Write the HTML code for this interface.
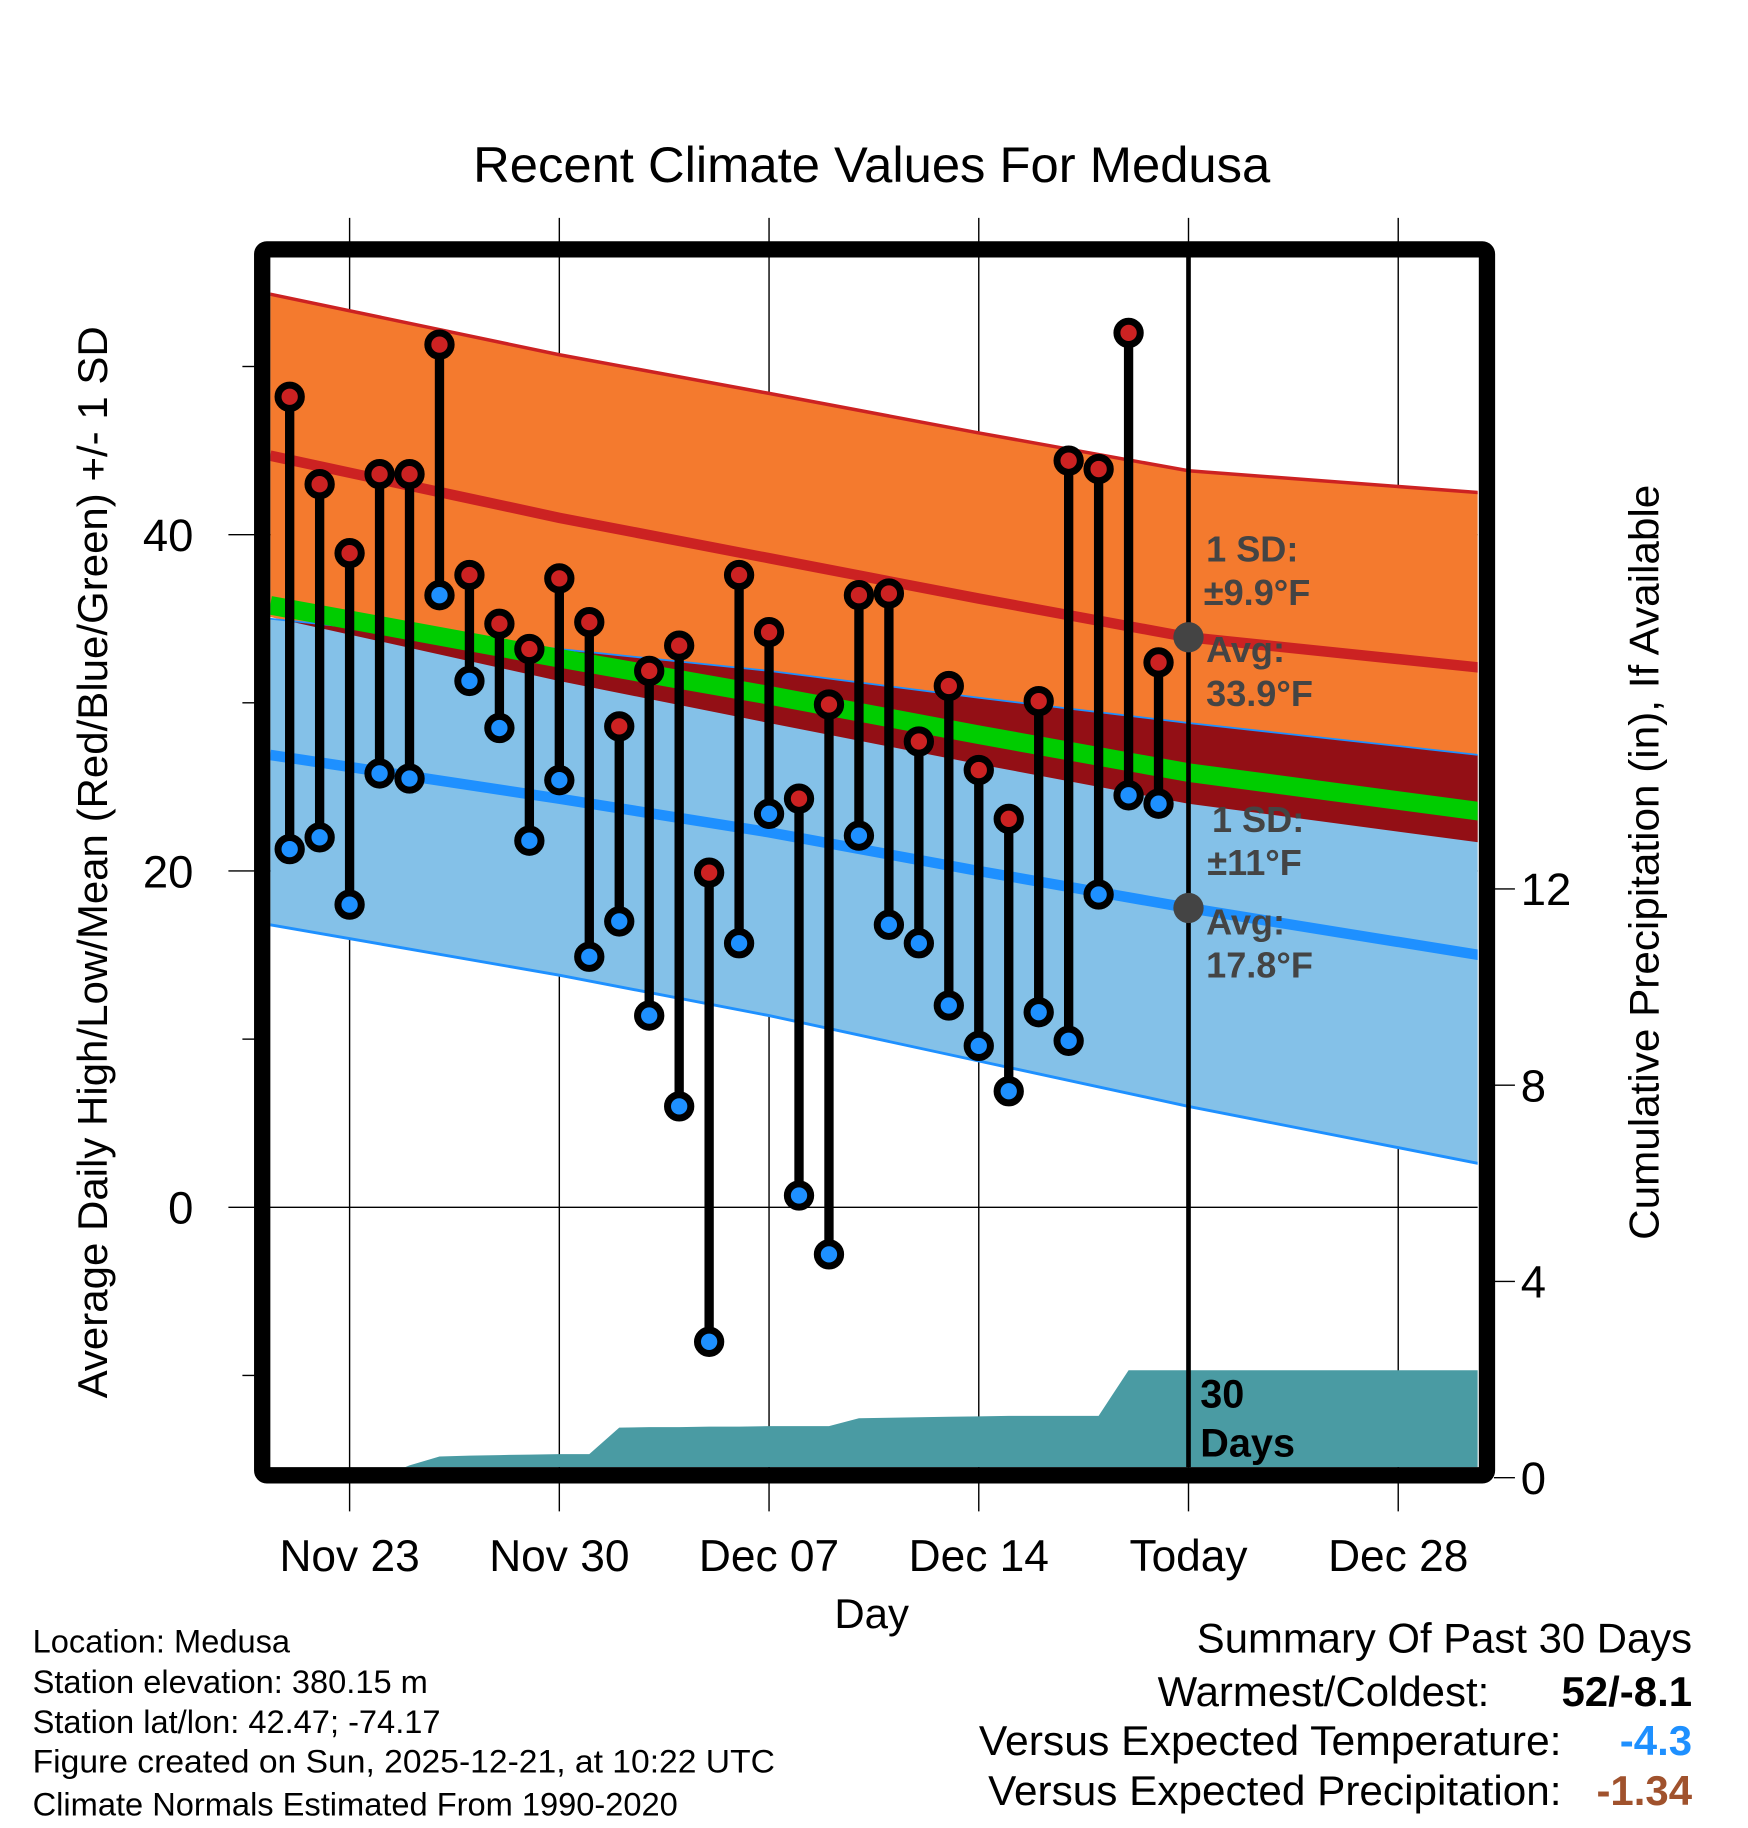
<!DOCTYPE html>
<html><head><meta charset="utf-8"><style>
html,body{margin:0;padding:0;background:#fff}
svg{display:block}
text{font-family:"Liberation Sans",Arial,sans-serif}
</style></head><body>
<svg id="chart" width="1748" height="1828" viewBox="0 0 1500 1568.65" xmlns="http://www.w3.org/2000/svg">
<defs><clipPath id="plotclip"><rect x="232" y="221" width="1036" height="1038"/></clipPath></defs>
<rect width="1500" height="1570" fill="#fff"/>
<text x="748" y="156" font-size="43" text-anchor="middle" textLength="684" lengthAdjust="spacingAndGlyphs">Recent Climate Values For Medusa</text>
<g id="grid"></g>
<g id="plot" clip-path="url(#plotclip)"></g>
<g id="marks"></g>
<rect x="225" y="214" width="1051" height="1052" fill="none" stroke="#000" stroke-width="14" rx="4"/>
<g id="axes"></g>
<text transform="translate(92,740) rotate(-90)" font-size="36" text-anchor="middle" textLength="920" lengthAdjust="spacingAndGlyphs">Average Daily High/Low/Mean (Red/Blue/Green) +/- 1 SD</text>
<text transform="translate(1423,740) rotate(-90)" font-size="36" text-anchor="middle" textLength="648" lengthAdjust="spacingAndGlyphs">Cumulative Precipitation (in), If Available</text>
<text x="748" y="1397" font-size="36" text-anchor="middle">Day</text>
<g font-size="28">
<text x="28" y="1418">Location: Medusa</text>
<text x="28" y="1453">Station elevation: 380.15 m</text>
<text x="28" y="1487">Station lat/lon: 42.47; -74.17</text>
<text x="28" y="1521" textLength="637" lengthAdjust="spacingAndGlyphs">Figure created on Sun, 2025-12-21, at 10:22 UTC</text>
<text x="28" y="1558">Climate Normals Estimated From 1990-2020</text>
</g>
<g font-size="36">
<text x="1452" y="1418" text-anchor="end" textLength="425" lengthAdjust="spacingAndGlyphs">Summary Of Past 30 Days</text>
<text x="1278" y="1464" text-anchor="end">Warmest/Coldest:</text>
<text x="1452" y="1464" text-anchor="end" font-weight="bold">52/-8.1</text>
<text x="1340" y="1506" text-anchor="end" textLength="500" lengthAdjust="spacingAndGlyphs">Versus Expected Temperature:</text>
<text x="1452" y="1506" text-anchor="end" font-weight="bold" fill="#1e90ff">-4.3</text>
<text x="1340" y="1549" text-anchor="end" textLength="492" lengthAdjust="spacingAndGlyphs">Versus Expected Precipitation:</text>
<text x="1452" y="1549" text-anchor="end" font-weight="bold" fill="#a0522d">-1.34</text>
</g>
</svg>
<script>
const days = [-2,-1,0,1,2,3,4,5,6,7,8,9,10,11,12,13,14,15,16,17,18,19,20,21,22,23,24,25,26,27];
const highs = [48.2,43.0,38.9,43.6,43.6,51.3,37.6,34.7,33.2,37.4,34.8,28.6,31.9,33.4,19.9,37.6,34.2,24.3,29.9,36.4,36.5,27.7,31.0,26.0,23.1,30.1,44.4,43.9,52.0,32.4];
const lows = [21.3,22.0,18.0,25.8,25.5,36.4,31.3,28.5,21.8,25.4,14.9,17.0,11.4,6.0,-8.0,15.7,23.4,0.7,-2.8,22.1,16.8,15.7,12.0,9.6,6.9,11.6,9.9,18.6,24.5,24.0];
const precip = [0,0,0,0,0.25,0.43,0.45,0.46,0.47,0.48,0.48,1.02,1.03,1.03,1.04,1.04,1.05,1.05,1.05,1.21,1.22,1.23,1.24,1.25,1.26,1.26,1.26,1.26,2.19,2.19];
const normDays = [-2.65,7,14,21,28,37.7];
const highMean = [44.7,41.0,38.6,36.2,33.9,32.1];
const highSD = [9.6,9.7,9.8,9.85,9.9,10.4];
const lowMean = [26.9,24.3,22.3,20.0,17.8,15.0];
const lowSDUp = [8.1,8.9,9.6,10.3,11.0,11.9];
const lowSDDown = [10.1,10.5,10.9,11.3,11.8,12.4];
const xTickDays = [0,7,14,21,28,35];
const xTickLabels = ["Nov 23","Nov 30","Dec 07","Dec 14","Today","Dec 28"];
const yTicks = [40,20,0];
const yMinor = [50,30,10,-10];
const y2Ticks = [0,4,8,12];
const todayDay = 28;
const todayHigh = 33.9, todayLow = 17.8;

const NS="http://www.w3.org/2000/svg";
const X = d => 300 + 25.71*d;
const Y = t => 1036 - 14.43*t;
const Y2 = p => 1268 - 42.1*p;
function mk(tag, attrs, parent){const e=document.createElementNS(NS,tag);for(const k in attrs)e.setAttribute(k,attrs[k]);parent.appendChild(e);return e;}
const grid=document.getElementById('grid'), plot=document.getElementById('plot'), marks=document.getElementById('marks'), axes=document.getElementById('axes');

xTickDays.forEach((d,i)=>{
  const l=mk('line',{x1:X(d),x2:X(d),y1:187,y2:1297,stroke:'#000','stroke-width':1.2},grid);
  
  
  const t=mk('text',{x:X(d),y:1348,'font-size':38,'text-anchor':'middle'},axes);
  t.textContent=xTickLabels[i];
  
  
});
yTicks.forEach(v=>{
  const l=mk('line',{x1:196,x2:1268,y1:Y(v),y2:Y(v),stroke:'#000','stroke-width':1.2},grid);
  
  
  const t=mk('text',{x:166,y:Y(v)+14,'font-size':39,'text-anchor':'end'},axes);
  t.textContent=v;
  
  
});
yMinor.forEach(v=>{
  const l=mk('line',{x1:208,x2:220,y1:Y(v),y2:Y(v),stroke:'#000','stroke-width':1.2},axes);
  
  
});
y2Ticks.forEach(v=>{
  const l=mk('line',{x1:1282,x2:1300,y1:Y2(v),y2:Y2(v),stroke:'#000','stroke-width':1.2},axes);
  
  
  const t=mk('text',{x:1305,y:Y2(v)+14,'font-size':39},axes);
  t.textContent=v;
  
  
});

function line(vals){return normDays.map((d,i)=>[X(d),Y(vals[i])]);}
const hUp=line(highMean.map((m,i)=>m+highSD[i])), hLo=line(highMean.map((m,i)=>m-highSD[i]));
const lUp=line(lowMean.map((m,i)=>m+lowSDUp[i])), lLo=line(lowMean.map((m,i)=>m-lowSDDown[i]));
const hM=line(highMean), lM=line(lowMean), gM=line(highMean.map((m,i)=>(m+lowMean[i])/2));
const pts=a=>a.map(p=>p.join(',')).join(' ');
const band=(a,b)=>pts(a.concat(b.slice().reverse()));

const defs=document.querySelector('defs');
const cp=mk('clipPath',{id:'lowband'},defs);
mk('polygon',{points:band(lUp,lLo)},cp);

let e;
e=mk('polygon',{points:band(hUp,hLo),fill:'#f47a2e'},plot);


e=mk('polygon',{points:band(lUp,lLo),fill:'#84c1e8'},plot);


e=mk('polygon',{points:band(hUp,hLo),fill:'#930f15','clip-path':'url(#lowband)'},plot);


e=mk('polyline',{points:pts(hUp),fill:'none',stroke:'#cc2222','stroke-width':3},plot);


e=mk('polyline',{points:pts(lUp),fill:'none',stroke:'#1e90ff','stroke-width':1.5},plot);


e=mk('polyline',{points:pts(lLo),fill:'none',stroke:'#1e90ff','stroke-width':2.5},plot);


e=mk('polyline',{points:pts(hM),fill:'none',stroke:'#cc2222','stroke-width':9},plot);


e=mk('polyline',{points:pts(lM),fill:'none',stroke:'#1e90ff','stroke-width':9},plot);


e=mk('polyline',{points:pts(gM),fill:'none',stroke:'#00cc00','stroke-width':16},plot);



const pp=[[X(days[0]),Y2(0)]].concat(days.map((d,i)=>[X(d),Y2(precip[i])]));
pp.unshift([X(-3),Y2(0)]);
pp.push([1270,Y2(precip[precip.length-1])],[1270,Y2(0)]);
e=mk('polygon',{points:pts(pp),fill:'#4a9ba3'},plot);



e=mk('line',{x1:X(todayDay),x2:X(todayDay),y1:221,y2:1262,stroke:'#000','stroke-width':4},plot);



days.forEach((d,i)=>{
  const s=mk('line',{x1:X(d),x2:X(d),y1:Y(highs[i]),y2:Y(lows[i]),stroke:'#000','stroke-width':8},marks);
  
  
});
days.forEach((d,i)=>{
  const h=mk('circle',{cx:X(d),cy:Y(highs[i]),r:10,fill:'#cc2222',stroke:'#000','stroke-width':6},marks);
  
  
  const l=mk('circle',{cx:X(d),cy:Y(lows[i]),r:10,fill:'#1e90ff',stroke:'#000','stroke-width':6},marks);
  
  
});
e=mk('circle',{cx:X(todayDay),cy:Y(todayHigh),r:13,fill:'#444'},marks);


e=mk('circle',{cx:X(todayDay),cy:Y(todayLow),r:13,fill:'#444'},marks);



const ann=[["1 SD:",1035,482],["±9.9°F",1033,519],["Avg:",1035,568],["33.9°F",1035,606],["1 SD:",1040,714],["±11°F",1036,751],["Avg:",1035,802],["17.8°F",1035,839]];
ann.forEach(a=>{
  const t=mk('text',{x:a[1],y:a[2],'font-size':31,'font-weight':'bold',fill:'#444'},marks);
  t.textContent=a[0];
  
  
});
[["30",1208],["Days",1250]].forEach(a=>{
  const t=mk('text',{x:1030,y:a[1],'font-size':34,'font-weight':'bold',fill:'#000'},marks);
  t.textContent=a[0];
  
  
});
</script>
</body></html>
